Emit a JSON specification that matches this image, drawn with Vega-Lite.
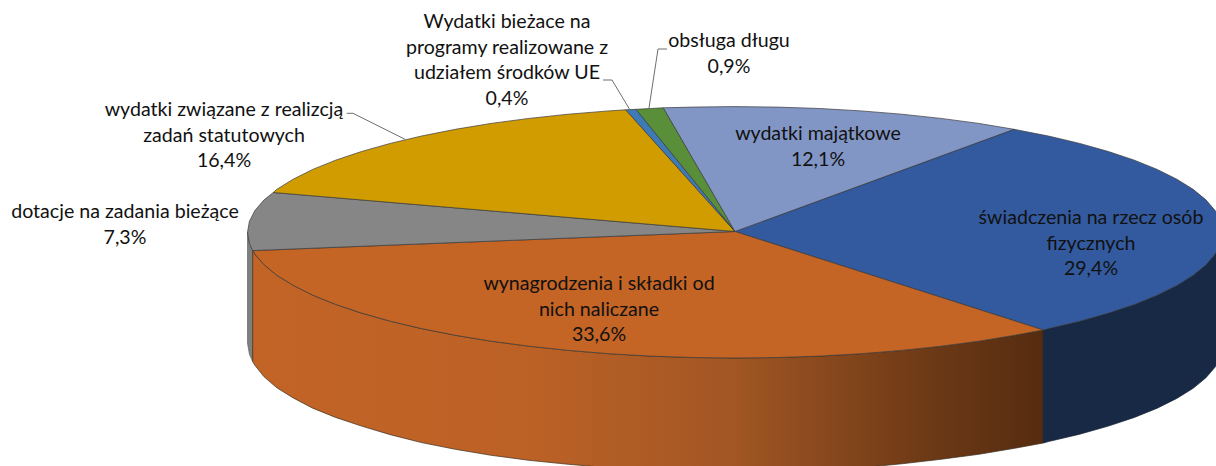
{
"$schema":"https://vega.github.io/schema/vega-lite/v6.json",
"width":1216,"height":466,"padding":0,
"autosize":{"type":"fit","contains":"padding"},
"background":"white",
"view":{"stroke":null},
"datasets":{
"side":[
{"s":"gray","x":-487.5,"y":0,"y2":-111},{"s":"gray","x":-485.6,"y":-11,"y2":-122},{"s":"gray","x":-482.3,"y":-18.3,"y2":-129.3},
{"s":"orange","x":-482.3,"y":-18.3,"y2":-129.3},{"s":"orange","x":-480.1,"y":-21.8,"y2":-133},{"s":"orange","x":-470.9,"y":-32.5,"y2":-144.5},{"s":"orange","x":-458.1,"y":-43,"y2":-155.5},{"s":"orange","x":-441.8,"y":-53.1,"y2":-165.6},{"s":"orange","x":-422.2,"y":-62.9,"y2":-175.9},{"s":"orange","x":-399.4,"y":-72.1,"y2":-185.1},{"s":"orange","x":-373.4,"y":-80.8,"y2":-193.8},{"s":"orange","x":-344.7,"y":-88.9,"y2":-202.4},{"s":"orange","x":-313.4,"y":-96.3,"y2":-210.3},{"s":"orange","x":-279.6,"y":-103,"y2":-217},{"s":"orange","x":-243.8,"y":-108.9,"y2":-223},{"s":"orange","x":-206,"y":-113.9,"y2":-228},{"s":"orange","x":-166.7,"y":-118.1,"y2":-232},{"s":"orange","x":-126.2,"y":-121.4,"y2":-235.4},{"s":"orange","x":-84.6,"y":-123.8,"y2":-237.8},{"s":"orange","x":-42.5,"y":-125.2,"y2":-239.2},{"s":"orange","x":0,"y":-125.7,"y2":-239.7},{"s":"orange","x":42.5,"y":-125.2,"y2":-239.2},{"s":"orange","x":84.6,"y":-123.8,"y2":-237.8},{"s":"orange","x":126.2,"y":-121.4,"y2":-235.4},{"s":"orange","x":166.7,"y":-118.1,"y2":-231.5},{"s":"orange","x":206,"y":-113.9,"y2":-227},{"s":"orange","x":243.8,"y":-108.9,"y2":-222},{"s":"orange","x":279.6,"y":-103,"y2":-216},{"s":"orange","x":308.3,"y":-97.7,"y2":-210.7},
{"s":"blue","x":308.3,"y":-97.7,"y2":-210.7},{"s":"blue","x":313.4,"y":-96.3,"y2":-209.3},{"s":"blue","x":344.7,"y":-88.9,"y2":-201.9},{"s":"blue","x":373.4,"y":-80.8,"y2":-193.8},{"s":"blue","x":399.4,"y":-72.1,"y2":-185.1},{"s":"blue","x":422.2,"y":-62.9,"y2":-175.9},{"s":"blue","x":441.8,"y":-53.1,"y2":-166.1},{"s":"blue","x":458.1,"y":-43,"y2":-156},{"s":"blue","x":470.9,"y":-32.5,"y2":-145.5},{"s":"blue","x":480.1,"y":-21.8,"y2":-134.8},{"s":"blue","x":485.6,"y":-11,"y2":-124},{"s":"blue","x":487.5,"y":0,"y2":-113}
],
"top":[
{"s":"a","i":0,"x":0,"y":0.8},{"s":"a","i":1,"x":279,"y":103},{"s":"a","i":2,"x":313.4,"y":96.3},{"s":"a","i":3,"x":344.7,"y":88.9},{"s":"a","i":4,"x":373.4,"y":80.8},{"s":"a","i":5,"x":399.4,"y":72.1},{"s":"a","i":6,"x":422.2,"y":62.9},{"s":"a","i":7,"x":441.8,"y":53.1},{"s":"a","i":8,"x":458.1,"y":43},{"s":"a","i":9,"x":470.9,"y":32.5},{"s":"a","i":10,"x":480.1,"y":21.8},{"s":"a","i":11,"x":485.6,"y":11},{"s":"a","i":12,"x":487.5,"y":0},{"s":"a","i":13,"x":485.6,"y":-11},{"s":"a","i":14,"x":480.1,"y":-21.8},{"s":"a","i":15,"x":470.9,"y":-32.5},{"s":"a","i":16,"x":458.1,"y":-43},{"s":"a","i":17,"x":441.8,"y":-53.1},{"s":"a","i":18,"x":422.2,"y":-62.9},{"s":"a","i":19,"x":399.4,"y":-72.1},{"s":"a","i":20,"x":373.4,"y":-80.8},{"s":"a","i":21,"x":344.7,"y":-88.9},{"s":"a","i":22,"x":313.4,"y":-96.3},{"s":"a","i":23,"x":308.3,"y":-97.7},{"s":"a","i":24,"x":0,"y":0.8},
{"s":"b","i":0,"x":0,"y":0.8},{"s":"b","i":1,"x":308.3,"y":-97.7},{"s":"b","i":2,"x":279.6,"y":-103},{"s":"b","i":3,"x":243.8,"y":-108.9},{"s":"b","i":4,"x":206,"y":-113.9},{"s":"b","i":5,"x":166.7,"y":-118.1},{"s":"b","i":6,"x":126.2,"y":-121.4},{"s":"b","i":7,"x":84.6,"y":-123.8},{"s":"b","i":8,"x":42.5,"y":-125.2},{"s":"b","i":9,"x":0,"y":-125.7},{"s":"b","i":10,"x":-42.5,"y":-125.2},{"s":"b","i":11,"x":-84.6,"y":-123.8},{"s":"b","i":12,"x":-126.2,"y":-121.4},{"s":"b","i":13,"x":-166.7,"y":-118.1},{"s":"b","i":14,"x":-206,"y":-113.9},{"s":"b","i":15,"x":-243.8,"y":-108.9},{"s":"b","i":16,"x":-279.6,"y":-103},{"s":"b","i":17,"x":-313.4,"y":-96.3},{"s":"b","i":18,"x":-344.7,"y":-88.9},{"s":"b","i":19,"x":-373.4,"y":-80.8},{"s":"b","i":20,"x":-399.4,"y":-72.1},{"s":"b","i":21,"x":-422.2,"y":-62.9},{"s":"b","i":22,"x":-441.8,"y":-53.1},{"s":"b","i":23,"x":-458.1,"y":-43},{"s":"b","i":24,"x":-470.9,"y":-32.5},{"s":"b","i":25,"x":-480.1,"y":-21.8},{"s":"b","i":26,"x":-482.3,"y":-18.3},{"s":"b","i":27,"x":0,"y":0.8},
{"s":"c","i":0,"x":0,"y":0.8},{"s":"c","i":1,"x":-482.3,"y":-18.3},{"s":"c","i":2,"x":-485.6,"y":-11},{"s":"c","i":3,"x":-487.5,"y":0},{"s":"c","i":4,"x":-485.6,"y":11},{"s":"c","i":5,"x":-480.1,"y":21.8},{"s":"c","i":6,"x":-470.9,"y":32.5},{"s":"c","i":7,"x":-461.7,"y":39.8},{"s":"c","i":8,"x":0,"y":0.8},
{"s":"d","i":0,"x":0,"y":0.8},{"s":"d","i":1,"x":-461.7,"y":39.8},{"s":"d","i":2,"x":-458.1,"y":43},{"s":"d","i":3,"x":-441.8,"y":53.1},{"s":"d","i":4,"x":-422.2,"y":62.9},{"s":"d","i":5,"x":-399.4,"y":72.1},{"s":"d","i":6,"x":-373.4,"y":80.8},{"s":"d","i":7,"x":-344.7,"y":88.9},{"s":"d","i":8,"x":-313.4,"y":96.3},{"s":"d","i":9,"x":-279.6,"y":103},{"s":"d","i":10,"x":-243.8,"y":108.9},{"s":"d","i":11,"x":-206,"y":113.9},{"s":"d","i":12,"x":-166.7,"y":118.1},{"s":"d","i":13,"x":-126.2,"y":121.4},{"s":"d","i":14,"x":-109.3,"y":122.5},{"s":"d","i":15,"x":0,"y":0.8},
{"s":"e","i":0,"x":0,"y":0.8},{"s":"e","i":1,"x":-109.3,"y":122.5},{"s":"e","i":2,"x":-99,"y":123},{"s":"e","i":3,"x":0,"y":0.8},
{"s":"f","i":0,"x":0,"y":0.8},{"s":"f","i":1,"x":-99,"y":123},{"s":"f","i":2,"x":-84.6,"y":123.8},{"s":"f","i":3,"x":-71.7,"y":124.5},{"s":"f","i":4,"x":0,"y":0.8},
{"s":"g","i":0,"x":0,"y":0.8},{"s":"g","i":1,"x":-71.7,"y":124.5},{"s":"g","i":2,"x":-42.5,"y":125.2},{"s":"g","i":3,"x":0,"y":125.7},{"s":"g","i":4,"x":42.5,"y":125.2},{"s":"g","i":5,"x":84.6,"y":123.8},{"s":"g","i":6,"x":126.2,"y":121.4},{"s":"g","i":7,"x":166.7,"y":118.1},{"s":"g","i":8,"x":206,"y":113.9},{"s":"g","i":9,"x":243.8,"y":108.9},{"s":"g","i":10,"x":279,"y":103},{"s":"g","i":11,"x":0,"y":0.8}
],
"leaders":[
{"s":"stat","i":0,"x":-388.3,"y":119},{"s":"stat","i":1,"x":-382,"y":119},{"s":"stat","i":2,"x":-330,"y":93},
{"s":"ue","i":0,"x":-132,"y":152.3},{"s":"ue","i":1,"x":-123,"y":152.3},{"s":"ue","i":2,"x":-105,"y":122.3},
{"s":"dlug","i":0,"x":-68,"y":183.3},{"s":"dlug","i":1,"x":-77,"y":183.3},{"s":"dlug","i":2,"x":-86,"y":124.3}
],
"labels":[
{"t":"Wydatki bieżace na\nprogramy realizowane z\nudziałem środków UE\n0,4%","x":-228,"y":210.3},
{"t":"obsługa długu\n0,9%","x":-6,"y":191.3},
{"t":"wydatki związane z realizcją\nzadań statutowych\n16,4%","x":-511,"y":122.3},
{"t":"dotacje na zadania bieżące\n7,3%","x":-610,"y":20.3},
{"t":"wydatki majątkowe\n12,1%","x":83,"y":98.3},
{"t":"świadczenia na rzecz osób\nfizycznych\n29,4%","x":356,"y":14.3},
{"t":"wynagrodzenia i składki od\nnich naliczane\n33,6%","x":-136,"y":-51.7}
]
},
"encoding":{
"x":{"field":"x","type":"quantitative","axis":null,"scale":{"domain":[-735,481],"nice":false,"zero":false}},
"y":{"field":"y","type":"quantitative","axis":null,"scale":{"domain":[-233.7,232.3],"nice":false,"zero":false}}
},
"layer":[
{"data":{"name":"side"},"transform":[{"filter":"datum.s==='gray'"}],
 "mark":{"type":"area","clip":true,"color":"#7f7f7f","stroke":"#555555","strokeWidth":0.6},
 "encoding":{"y2":{"field":"y2"}}},
{"data":{"name":"side"},"transform":[{"filter":"datum.s==='orange'"}],
 "mark":{"type":"area","clip":true,"stroke":"#3a2a1a","strokeWidth":0.7,
  "color":{"x1":0,"y1":0,"x2":1,"y2":0,"gradient":"linear","stops":[{"offset":0,"color":"#C26426"},{"offset":0.35,"color":"#BC6126"},{"offset":0.6,"color":"#A35724"},{"offset":0.85,"color":"#6E3A16"},{"offset":1,"color":"#552C10"}]}},
 "encoding":{"y2":{"field":"y2"}}},
{"data":{"name":"side"},"transform":[{"filter":"datum.s==='blue'"}],
 "mark":{"type":"area","clip":true,"color":"#172945","stroke":"#111c30","strokeWidth":0.7},
 "encoding":{"y2":{"field":"y2"}}},
{"data":{"name":"top"},
 "mark":{"type":"line","clip":true,"stroke":"#3a3a3a","strokeWidth":0.7},
 "encoding":{
  "order":{"field":"i","type":"quantitative"},
  "detail":{"field":"s"},
  "fill":{"field":"s","type":"nominal","legend":null,"scale":{"domain":["a","b","c","d","e","f","g"],"range":["#335A9F","#C46425","#868686","#D09C00","#3E7AB5","#5A8F3A","#8296C6"]}}
 }},
{"data":{"name":"leaders"},
 "mark":{"type":"line","stroke":"#6e6e6e","strokeWidth":1},
 "encoding":{"order":{"field":"i","type":"quantitative"},"detail":{"field":"s"}}},
{"data":{"name":"labels"},
 "mark":{"type":"text","font":"Lato","fontSize":19.6,"lineBreak":"\n","lineHeight":25.5,"align":"center","baseline":"middle","color":"#111111"},
 "encoding":{"text":{"field":"t"}}}
]
}
